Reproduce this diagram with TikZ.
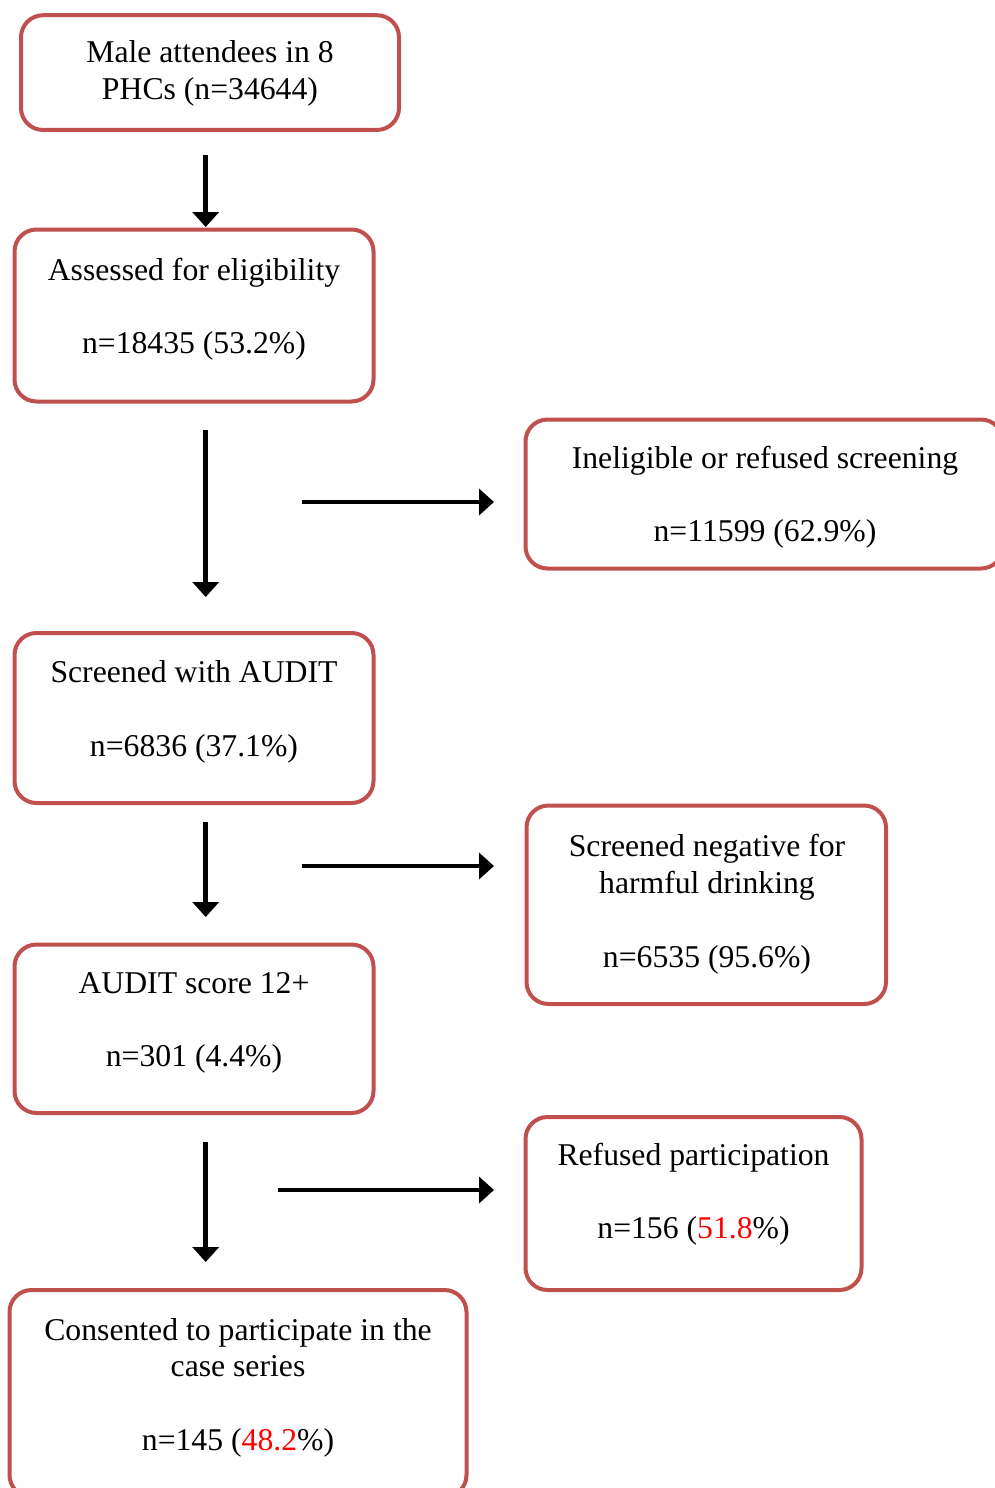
\documentclass[tikz,border=0pt]{standalone}
\usepackage{fontspec}
\setmainfont{Liberation Serif}
\usetikzlibrary{arrows.meta}
\definecolor{boxred}{HTML}{C0504D}
\definecolor{pctred}{HTML}{FF0000}
\begin{document}
\begin{tikzpicture}[x=1pt,y=-1pt,
  flowbox/.style={draw=boxred, line width=4pt, rounded corners=22pt,
    inner sep=0pt, fill=white},
  boxtext/.style={inner sep=0pt, anchor=north, align=center,
    font=\fontsize{31.7}{36.7}\selectfont},
  flowarrow/.style={line width=4.7pt, -{Triangle[width=26pt,length=15pt]}}]
\useasboundingbox (0,0) rectangle (995,1488);

% boxes
\node[flowbox, minimum width=378pt, minimum height=114.7pt] (b1) at (210,72.6) {};
\node[flowbox, minimum width=359pt, minimum height=172pt] (b2) at (194,315.5) {};
\node[flowbox, minimum width=477.5pt, minimum height=149pt] (b3) at (764.25,494) {};
\node[flowbox, minimum width=359pt, minimum height=170pt] (b4) at (194,718) {};
\node[flowbox, minimum width=359.5pt, minimum height=198.5pt] (b5) at (706.25,904.75) {};
\node[flowbox, minimum width=359pt, minimum height=168.5pt] (b6) at (194,1028.75) {};
\node[flowbox, minimum width=336pt, minimum height=173pt] (b7) at (693.5,1203.5) {};
\node[flowbox, minimum width=457pt, minimum height=207pt] (b8) at (238,1393.5) {};

% box texts (north = first baseline - strut height)
\node[boxtext] (t1) at (210,37.0) {\strut Male attendees in 8\\\strut PHCs (n=34644)};
\node[boxtext] (t2) at (194,254.3) {\strut Assessed for eligibility\\[36.7pt]\strut n=18435 (53.2\%)};
\node[boxtext] (t3) at (765,442.6) {\strut Ineligible or refused screening\\[36.7pt]\strut n=11599 (62.9\%)};
\node[boxtext] (t4) at (194,657.0) {\strut Screened with AUDIT\\[36.7pt]\strut n=6836 (37.1\%)};
\node[boxtext] (t5) at (707,831.0) {\strut Screened negative for\\\strut harmful drinking\\[36.7pt]\strut n=6535 (95.6\%)};
\node[boxtext] (t6) at (194,967.6) {\strut AUDIT score 12+\\[36.7pt]\strut n=301 (4.4\%)};
\node[boxtext] (t7) at (693.5,1139.3) {\strut Refused participation\\[36.7pt]\strut n=156 ({\color{pctred}51.8}\%)};
\node[boxtext] (t8) at (238,1314.3) {\strut Consented to participate in the\\\strut case series\\[36.7pt]\strut n=145 ({\color{pctred}48.2}\%)};

% arrow end points
\coordinate (a1s) at (205.7,155);  \coordinate (a1e) at (205.7,227);
\coordinate (a2s) at (205.7,430);  \coordinate (a2e) at (205.7,597);
\coordinate (h1s) at (302,502);    \coordinate (h1e) at (494,502);
\coordinate (a3s) at (205.7,822);  \coordinate (a3e) at (205.7,917);
\coordinate (h2s) at (302,866);    \coordinate (h2e) at (494,866);
\coordinate (a4s) at (205.7,1142); \coordinate (a4e) at (205.7,1262);
\coordinate (h3s) at (278,1190);   \coordinate (h3e) at (494,1190);

% arrows
\draw[flowarrow] (a1s) -- (a1e);
\draw[flowarrow] (a2s) -- (a2e);
\draw[flowarrow] (h1s) -- (h1e);
\draw[flowarrow] (a3s) -- (a3e);
\draw[flowarrow] (h2s) -- (h2e);
\draw[flowarrow] (a4s) -- (a4e);
\draw[flowarrow] (h3s) -- (h3e);
\end{tikzpicture}
\end{document}
